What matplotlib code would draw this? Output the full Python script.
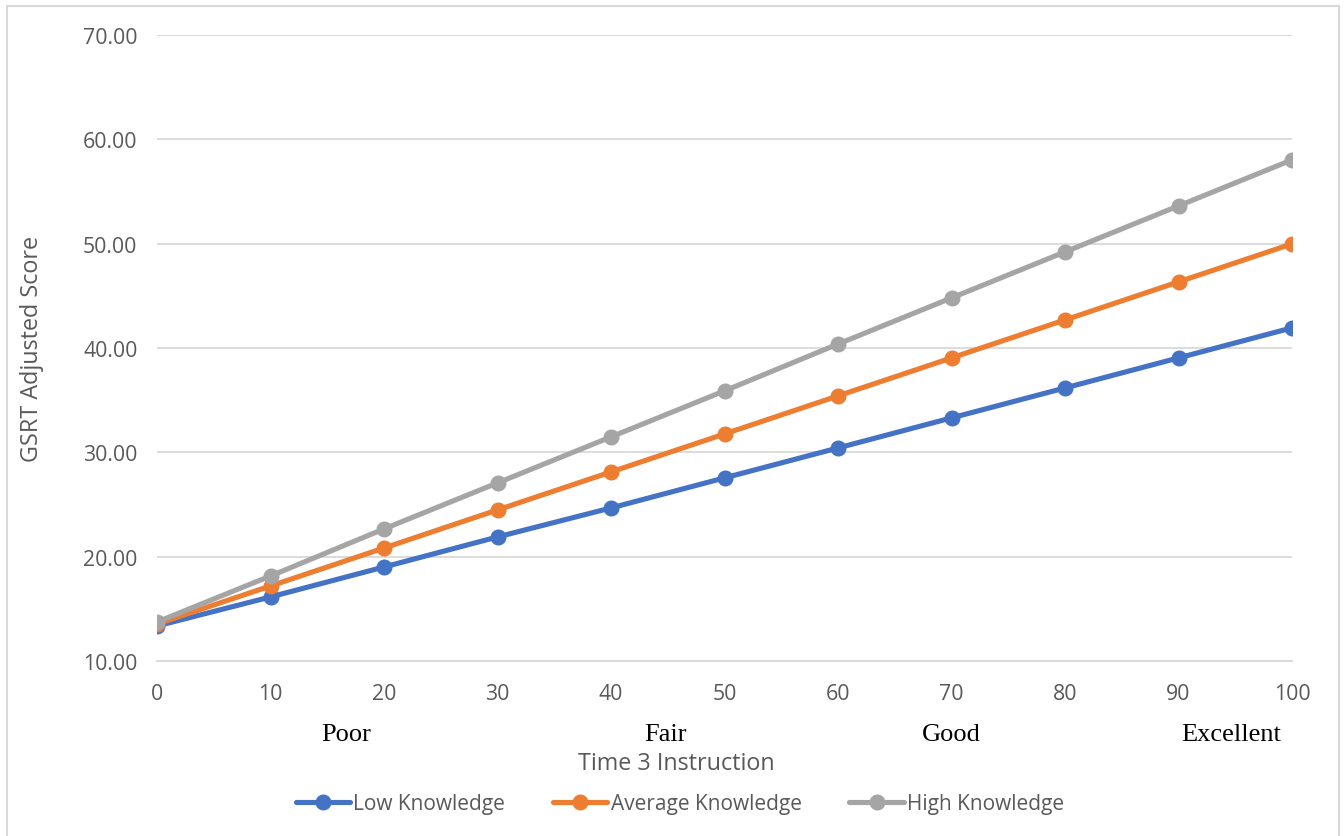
import matplotlib
matplotlib.use("Agg")
import matplotlib.pyplot as plt
from matplotlib.patches import Rectangle

x_vals = [0, 10, 20, 30, 40, 50, 60, 70, 80, 90, 100]
low = [13.36, 16.14, 19.01, 21.89, 24.67, 27.55, 30.42, 33.30, 36.17, 39.05, 41.93]
average = [13.55, 17.19, 20.83, 24.48, 28.12, 31.76, 35.41, 39.05, 42.69, 46.34, 49.98]
high = [13.74, 18.15, 22.66, 27.07, 31.48, 35.89, 40.38, 44.80, 49.21, 53.62, 58.03]
series_names = ["Low Knowledge", "Average Knowledge", "High Knowledge"]
colors = ["#4472C4", "#ED7D31", "#A5A5A5"]
y_ticks = [10, 20, 30, 40, 50, 60, 70]
quality_labels = ["Poor", "Fair", "Good", "Excellent"]
quality_pos = [16.65, 44.8, 70.0, 94.6]

plt.rcParams['font.family'] = ['Open Sans', 'DejaVu Sans']
W, H = 1344, 837
fig = plt.figure(figsize=(W / 100, H / 100), dpi=100)
ax = fig.add_axes([157 / W, 1 - 662 / H, (1292 - 157) / W, (662 - 36) / H])

for vals, name, c in zip([low, average, high], series_names, colors):
    ax.plot(x_vals, vals, color=c, lw=3.7, marker='o', ms=10.5, label=name,
            solid_capstyle='round', zorder=3)

ax.set_xlim(0, 100)
ax.set_ylim(10, 70)
ax.set_yticks(y_ticks)
ax.set_yticklabels([f"{v:.2f}" for v in y_ticks])
ax.set_xticks(x_vals)
ax.set_xticklabels([str(v) for v in x_vals])
ax.grid(axis='y', color='#D9D9D9', lw=1.3)
ax.set_axisbelow(True)
for s in ['top', 'right', 'left']:
    ax.spines[s].set_visible(False)
ax.spines['bottom'].set_color('#D9D9D9')
ax.spines['bottom'].set_linewidth(1.3)
ax.tick_params(axis='both', length=0, labelsize=15.3, labelcolor='#595959')
ax.tick_params(axis='y', pad=14)
ax.tick_params(axis='x', pad=16)

for lab, pos in zip(quality_labels, quality_pos):
    ax.text(pos, -0.1165, lab, transform=ax.get_xaxis_transform(), ha='center', va='center',
            fontsize=19, family=['Liberation Serif'], color='black')

fig.text(676 / W, 1 - 764 / H, "Time 3 Instruction", ha='center', va='center',
         fontsize=16.8, color='#595959')
fig.text(32 / W, 1 - 349 / H, "GSRT Adjusted Score", ha='center', va='center',
         rotation=90, fontsize=16.8, color='#595959')

leg = fig.legend(loc='center', bbox_to_anchor=(680 / W, 1 - 805 / H), ncol=3, frameon=False,
                 fontsize=15, handlelength=2.6, handletextpad=0.15, columnspacing=2.3,
                 labelcolor='#595959')

fig.patches.append(Rectangle((7 / W, -0.01), (1339 - 7) / W, 1 - 7 / H + 0.01,
                             transform=fig.transFigure, fill=False, edgecolor='#D9D9D9', lw=1.5))
fig.savefig("out.png", dpi=100, facecolor='white')
